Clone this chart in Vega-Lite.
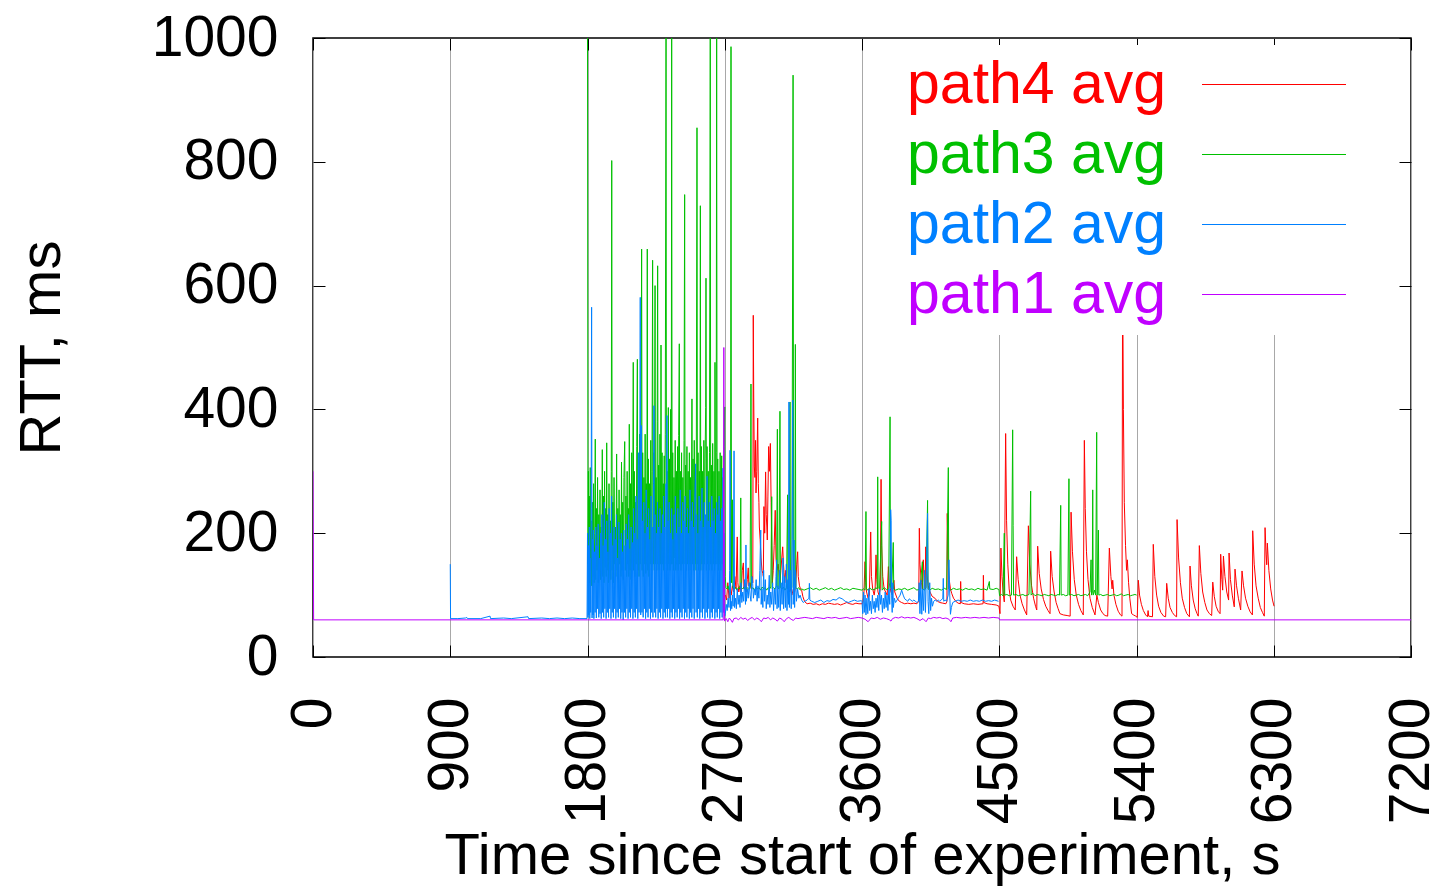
{
"$schema":"https://vega.github.io/schema/vega-lite/v6.json",
"width":1098,"height":619,"autosize":"none",
"padding":{"left":313,"top":38,"right":24,"bottom":230},
"config":{"font":"Liberation Sans","view":{"stroke":"black","strokeWidth":1.5}},
"datasets":{
"p1":[{"t":0,"v":300},{"t":4,"v":60},{"t":900,"v":60},{"t":1800,"v":60},{"t":2690,"v":60},{"t":2694,"v":500},{"t":2698,"v":58},{"t":2710,"v":62},{"t":2720,"v":57},{"t":2730,"v":63},{"t":2740,"v":60},{"t":2750,"v":56},{"t":2760,"v":62},{"t":2775,"v":63},{"t":2790,"v":60},{"t":2805,"v":64},{"t":2820,"v":61},{"t":2835,"v":63},{"t":2850,"v":59},{"t":2865,"v":62},{"t":2880,"v":64},{"t":2895,"v":60},{"t":2910,"v":63},{"t":2925,"v":61},{"t":2940,"v":57},{"t":2955,"v":63},{"t":2970,"v":62},{"t":2985,"v":64},{"t":3000,"v":60},{"t":3015,"v":63},{"t":3030,"v":61},{"t":3045,"v":58},{"t":3060,"v":63},{"t":3075,"v":61},{"t":3090,"v":57},{"t":3105,"v":62},{"t":3120,"v":64},{"t":3135,"v":61},{"t":3150,"v":59},{"t":3165,"v":63},{"t":3180,"v":62},{"t":3200,"v":63},{"t":3225,"v":64},{"t":3250,"v":63},{"t":3275,"v":62},{"t":3300,"v":64},{"t":3325,"v":63},{"t":3350,"v":62},{"t":3375,"v":64},{"t":3400,"v":63},{"t":3425,"v":64},{"t":3450,"v":62},{"t":3475,"v":63},{"t":3500,"v":64},{"t":3525,"v":62},{"t":3550,"v":63},{"t":3575,"v":64},{"t":3600,"v":63},{"t":3620,"v":61},{"t":3640,"v":57},{"t":3660,"v":63},{"t":3680,"v":62},{"t":3700,"v":64},{"t":3720,"v":61},{"t":3740,"v":63},{"t":3760,"v":62},{"t":3780,"v":60},{"t":3790,"v":58},{"t":3800,"v":62},{"t":3820,"v":64},{"t":3840,"v":63},{"t":3860,"v":65},{"t":3880,"v":63},{"t":3900,"v":64},{"t":3920,"v":63},{"t":3940,"v":64},{"t":3960,"v":62},{"t":3980,"v":59},{"t":4000,"v":62},{"t":4020,"v":57},{"t":4035,"v":63},{"t":4050,"v":62},{"t":4070,"v":64},{"t":4090,"v":63},{"t":4110,"v":64},{"t":4130,"v":62},{"t":4150,"v":63},{"t":4170,"v":61},{"t":4183,"v":57},{"t":4195,"v":63},{"t":4220,"v":64},{"t":4250,"v":63},{"t":4280,"v":64},{"t":4310,"v":63},{"t":4340,"v":64},{"t":4370,"v":63},{"t":4400,"v":64},{"t":4430,"v":63},{"t":4460,"v":64},{"t":4498,"v":63},{"t":4502,"v":60},{"t":7200,"v":60}],
"p2":[{"t":900,"v":150},{"t":902,"v":62},{"t":950,"v":62},{"t":1000,"v":63},{"t":1008,"v":64},{"t":1012,"v":62},{"t":1100,"v":62},{"t":1161,"v":66},{"t":1164,"v":62},{"t":1250,"v":63},{"t":1300,"v":62},{"t":1410,"v":65},{"t":1414,"v":62},{"t":1500,"v":63},{"t":1550,"v":62},{"t":1600,"v":63},{"t":1650,"v":62},{"t":1700,"v":63},{"t":1750,"v":62},{"t":1797,"v":62},
{"t":1800,"v":200},{"t":1803,"v":64},{"t":1806,"v":180},{"t":1809,"v":68},{"t":1812,"v":210},{"t":1815,"v":62},{"t":1818,"v":160},{"t":1821,"v":72},{"t":1824,"v":240},{"t":1827,"v":565},{"t":1830,"v":63},{"t":1833,"v":190},{"t":1836,"v":68},{"t":1839,"v":205},{"t":1842,"v":62},{"t":1846,"v":170},{"t":1850,"v":72},{"t":1854,"v":210},{"t":1858,"v":63},{"t":1862,"v":180},{"t":1866,"v":78},{"t":1870,"v":215},{"t":1874,"v":64},{"t":1878,"v":160},{"t":1882,"v":70},{"t":1886,"v":200},{"t":1890,"v":62},{"t":1894,"v":230},{"t":1898,"v":72},{"t":1902,"v":180},{"t":1906,"v":64},{"t":1910,"v":250},{"t":1914,"v":78},{"t":1918,"v":190},{"t":1922,"v":62},{"t":1926,"v":220},{"t":1930,"v":72},{"t":1934,"v":170},{"t":1938,"v":64},{"t":1942,"v":240},{"t":1946,"v":78},{"t":1950,"v":200},{"t":1954,"v":62},{"t":1958,"v":260},{"t":1962,"v":72},{"t":1966,"v":180},{"t":1970,"v":64},{"t":1974,"v":210},{"t":1978,"v":78},{"t":1982,"v":190},{"t":1986,"v":62},{"t":1990,"v":230},{"t":1994,"v":72},{"t":1998,"v":160},{"t":2002,"v":64},{"t":2006,"v":218},{"t":2010,"v":78},{"t":2014,"v":190},{"t":2018,"v":62},{"t":2022,"v":200},{"t":2026,"v":72},{"t":2030,"v":170},{"t":2034,"v":60},{"t":2038,"v":205},{"t":2042,"v":72},{"t":2046,"v":180},{"t":2050,"v":64},{"t":2054,"v":215},{"t":2058,"v":78},{"t":2062,"v":190},{"t":2066,"v":62},{"t":2070,"v":230},{"t":2074,"v":72},{"t":2078,"v":175},{"t":2082,"v":64},{"t":2086,"v":210},{"t":2090,"v":78},{"t":2094,"v":185},{"t":2098,"v":62},{"t":2102,"v":240},{"t":2106,"v":72},{"t":2110,"v":200},{"t":2114,"v":64},{"t":2118,"v":260},{"t":2122,"v":78},{"t":2126,"v":190},{"t":2130,"v":62},{"t":2134,"v":330},{"t":2138,"v":72},{"t":2142,"v":200},{"t":2146,"v":581},{"t":2149,"v":68},{"t":2153,"v":374},{"t":2157,"v":72},{"t":2161,"v":220},{"t":2165,"v":64},{"t":2169,"v":250},{"t":2173,"v":78},{"t":2177,"v":200},{"t":2181,"v":62},{"t":2185,"v":270},{"t":2189,"v":72},{"t":2193,"v":210},{"t":2197,"v":64},{"t":2201,"v":240},{"t":2205,"v":78},{"t":2209,"v":190},{"t":2213,"v":62},{"t":2217,"v":260},{"t":2221,"v":72},{"t":2225,"v":210},{"t":2229,"v":64},{"t":2233,"v":280},{"t":2236,"v":406},{"t":2239,"v":72},{"t":2243,"v":230},{"t":2247,"v":64},{"t":2251,"v":200},{"t":2255,"v":78},{"t":2259,"v":250},{"t":2263,"v":62},{"t":2267,"v":210},{"t":2271,"v":72},{"t":2275,"v":240},{"t":2279,"v":64},{"t":2283,"v":200},{"t":2287,"v":78},{"t":2291,"v":230},{"t":2295,"v":62},{"t":2299,"v":260},{"t":2303,"v":72},{"t":2307,"v":210},{"t":2311,"v":64},{"t":2315,"v":280},{"t":2318,"v":78},{"t":2321,"v":390},{"t":2324,"v":64},{"t":2328,"v":220},{"t":2332,"v":78},{"t":2336,"v":250},{"t":2340,"v":62},{"t":2344,"v":200},{"t":2348,"v":72},{"t":2352,"v":240},{"t":2356,"v":64},{"t":2360,"v":190},{"t":2364,"v":78},{"t":2368,"v":230},{"t":2372,"v":62},{"t":2376,"v":260},{"t":2380,"v":72},{"t":2384,"v":200},{"t":2388,"v":64},{"t":2392,"v":240},{"t":2396,"v":78},{"t":2400,"v":210},{"t":2404,"v":62},{"t":2408,"v":270},{"t":2412,"v":72},{"t":2416,"v":200},{"t":2420,"v":64},{"t":2424,"v":250},{"t":2428,"v":78},{"t":2432,"v":220},{"t":2436,"v":62},{"t":2440,"v":260},{"t":2444,"v":72},{"t":2448,"v":210},{"t":2452,"v":64},{"t":2456,"v":240},{"t":2460,"v":78},{"t":2464,"v":200},{"t":2468,"v":62},{"t":2472,"v":270},{"t":2476,"v":72},{"t":2480,"v":220},{"t":2484,"v":64},{"t":2488,"v":250},{"t":2492,"v":78},{"t":2496,"v":210},{"t":2500,"v":62},{"t":2504,"v":260},{"t":2509,"v":312},{"t":2512,"v":72},{"t":2516,"v":230},{"t":2520,"v":64},{"t":2524,"v":200},{"t":2528,"v":78},{"t":2532,"v":260},{"t":2536,"v":62},{"t":2540,"v":220},{"t":2544,"v":72},{"t":2548,"v":240},{"t":2551,"v":273},{"t":2554,"v":64},{"t":2558,"v":210},{"t":2562,"v":78},{"t":2566,"v":250},{"t":2570,"v":62},{"t":2574,"v":230},{"t":2578,"v":72},{"t":2584,"v":292},{"t":2587,"v":64},{"t":2591,"v":220},{"t":2595,"v":78},{"t":2599,"v":250},{"t":2603,"v":62},{"t":2607,"v":210},{"t":2611,"v":72},{"t":2615,"v":260},{"t":2619,"v":64},{"t":2623,"v":220},{"t":2627,"v":78},{"t":2631,"v":240},{"t":2635,"v":62},{"t":2639,"v":200},{"t":2643,"v":72},{"t":2647,"v":250},{"t":2651,"v":64},{"t":2655,"v":230},{"t":2659,"v":78},{"t":2663,"v":260},{"t":2667,"v":62},{"t":2671,"v":220},{"t":2675,"v":72},{"t":2679,"v":240},{"t":2683,"v":64},{"t":2688,"v":305},{"t":2692,"v":72},{"t":2696,"v":200},{"t":2700,"v":66},
{"t":2704,"v":70},{"t":2710,"v":85},{"t":2716,"v":75},{"t":2722,"v":95},{"t":2728,"v":80},{"t":2732,"v":140},{"t":2735,"v":334},{"t":2738,"v":75},{"t":2742,"v":90},{"t":2746,"v":78},{"t":2750,"v":100},{"t":2755,"v":82},{"t":2758,"v":160},{"t":2761,"v":333},{"t":2764,"v":80},{"t":2770,"v":95},{"t":2776,"v":78},{"t":2782,"v":110},{"t":2788,"v":85},{"t":2794,"v":100},{"t":2800,"v":80},{"t":2806,"v":120},{"t":2812,"v":88},{"t":2818,"v":105},{"t":2824,"v":90},{"t":2830,"v":125},{"t":2836,"v":85},{"t":2839,"v":181},{"t":2842,"v":90},{"t":2848,"v":110},{"t":2854,"v":95},{"t":2860,"v":120},{"t":2866,"v":100},{"t":2872,"v":90},{"t":2878,"v":130},{"t":2883,"v":119},{"t":2888,"v":95},{"t":2894,"v":110},{"t":2900,"v":100},{"t":2906,"v":125},{"t":2912,"v":90},{"t":2918,"v":115},{"t":2924,"v":95},{"t":2930,"v":140},{"t":2936,"v":205},{"t":2939,"v":85},{"t":2944,"v":110},{"t":2950,"v":80},{"t":2955,"v":140},{"t":2960,"v":90},{"t":2966,"v":125},{"t":2972,"v":78},{"t":2978,"v":100},{"t":2984,"v":85},{"t":2992,"v":132},{"t":2996,"v":80},{"t":3002,"v":105},{"t":3008,"v":85},{"t":3014,"v":120},{"t":3020,"v":75},{"t":3026,"v":110},{"t":3032,"v":85},{"t":3036,"v":130},{"t":3040,"v":157},{"t":3043,"v":78},{"t":3048,"v":115},{"t":3054,"v":80},{"t":3060,"v":140},{"t":3064,"v":75},{"t":3070,"v":120},{"t":3076,"v":85},{"t":3082,"v":160},{"t":3086,"v":78},{"t":3092,"v":130},{"t":3098,"v":80},{"t":3104,"v":150},{"t":3108,"v":75},{"t":3114,"v":125},{"t":3118,"v":85},{"t":3121,"v":412},{"t":3124,"v":80},{"t":3130,"v":140},{"t":3136,"v":78},{"t":3142,"v":190},{"t":3146,"v":415},{"t":3149,"v":85},{"t":3154,"v":189},{"t":3158,"v":80},{"t":3164,"v":140},{"t":3170,"v":90},{"t":3178,"v":110},{"t":3186,"v":95},{"t":3194,"v":100},{"t":3204,"v":92},{"t":3215,"v":88},{"t":3225,"v":90},{"t":3240,"v":92},{"t":3252,"v":95},{"t":3255,"v":119},{"t":3258,"v":92},{"t":3270,"v":90},{"t":3290,"v":88},{"t":3310,"v":90},{"t":3330,"v":92},{"t":3350,"v":88},{"t":3370,"v":91},{"t":3390,"v":90},{"t":3410,"v":93},{"t":3430,"v":92},{"t":3450,"v":96},{"t":3470,"v":94},{"t":3490,"v":90},{"t":3510,"v":88},{"t":3530,"v":90},{"t":3550,"v":92},{"t":3570,"v":90},{"t":3595,"v":91},
{"t":3600,"v":90},{"t":3605,"v":70},{"t":3610,"v":105},{"t":3615,"v":72},{"t":3620,"v":100},{"t":3626,"v":68},{"t":3632,"v":95},{"t":3638,"v":70},{"t":3645,"v":110},{"t":3650,"v":75},{"t":3656,"v":90},{"t":3662,"v":70},{"t":3668,"v":100},{"t":3674,"v":78},{"t":3680,"v":90},{"t":3686,"v":72},{"t":3692,"v":95},{"t":3698,"v":80},{"t":3704,"v":100},{"t":3710,"v":75},{"t":3716,"v":110},{"t":3722,"v":85},{"t":3728,"v":100},{"t":3734,"v":72},{"t":3740,"v":95},{"t":3746,"v":78},{"t":3752,"v":105},{"t":3758,"v":80},{"t":3764,"v":100},{"t":3770,"v":75},{"t":3776,"v":110},{"t":3782,"v":85},{"t":3785,"v":150},{"t":3788,"v":238},{"t":3791,"v":221},{"t":3794,"v":100},{"t":3798,"v":72},{"t":3802,"v":120},{"t":3806,"v":80},{"t":3812,"v":95},{"t":3820,"v":88},{"t":3830,"v":92},{"t":3840,"v":96},{"t":3850,"v":100},{"t":3860,"v":108},{"t":3870,"v":100},{"t":3880,"v":94},{"t":3890,"v":92},{"t":3900,"v":90},{"t":3910,"v":94},{"t":3920,"v":92},{"t":3930,"v":90},{"t":3940,"v":92},{"t":3950,"v":90},{"t":3960,"v":88},{"t":3970,"v":90},{"t":3975,"v":120},{"t":3980,"v":70},{"t":3986,"v":124},{"t":3992,"v":69},{"t":3998,"v":110},{"t":4004,"v":75},{"t":4010,"v":140},{"t":4016,"v":72},{"t":4022,"v":130},{"t":4026,"v":180},{"t":4030,"v":232},{"t":4033,"v":90},{"t":4038,"v":70},{"t":4044,"v":120},{"t":4050,"v":75},{"t":4056,"v":95},{"t":4062,"v":82},{"t":4070,"v":90},{"t":4080,"v":92},{"t":4090,"v":90},{"t":4100,"v":92},{"t":4110,"v":90},{"t":4120,"v":92},{"t":4130,"v":95},{"t":4133,"v":127},{"t":4136,"v":90},{"t":4145,"v":92},{"t":4155,"v":90},{"t":4165,"v":100},{"t":4170,"v":157},{"t":4174,"v":110},{"t":4180,"v":69},{"t":4186,"v":80},{"t":4195,"v":88},{"t":4210,"v":90},{"t":4230,"v":92},{"t":4250,"v":90},{"t":4270,"v":91},{"t":4290,"v":90},{"t":4310,"v":92},{"t":4330,"v":90},{"t":4350,"v":91},{"t":4370,"v":90},{"t":4390,"v":92},{"t":4410,"v":90},{"t":4430,"v":91},{"t":4450,"v":90},{"t":4470,"v":92},{"t":4495,"v":90}],
"p3":[{"t":1800,"v":1000},{"t":1803,"v":150},{"t":1806,"v":300},{"t":1809,"v":130},{"t":1812,"v":260},{"t":1815,"v":120},{"t":1818,"v":306},{"t":1821,"v":140},{"t":1824,"v":220},{"t":1828,"v":115},{"t":1832,"v":250},{"t":1836,"v":130},{"t":1840,"v":280},{"t":1844,"v":120},{"t":1848,"v":200},{"t":1851,"v":352},{"t":1854,"v":125},{"t":1858,"v":240},{"t":1862,"v":140},{"t":1866,"v":290},{"t":1870,"v":120},{"t":1874,"v":230},{"t":1878,"v":150},{"t":1882,"v":270},{"t":1886,"v":125},{"t":1890,"v":210},{"t":1894,"v":140},{"t":1897,"v":335},{"t":1900,"v":130},{"t":1904,"v":260},{"t":1908,"v":120},{"t":1912,"v":300},{"t":1916,"v":145},{"t":1920,"v":240},{"t":1923,"v":130},{"t":1926,"v":346},{"t":1929,"v":140},{"t":1933,"v":230},{"t":1937,"v":120},{"t":1941,"v":280},{"t":1945,"v":150},{"t":1949,"v":220},{"t":1953,"v":125},{"t":1956,"v":300},{"t":1959,"v":802},{"t":1962,"v":140},{"t":1966,"v":250},{"t":1970,"v":120},{"t":1974,"v":290},{"t":1978,"v":150},{"t":1982,"v":210},{"t":1986,"v":130},{"t":1991,"v":328},{"t":1995,"v":140},{"t":1999,"v":240},{"t":2003,"v":120},{"t":2007,"v":270},{"t":2011,"v":150},{"t":2015,"v":230},{"t":2019,"v":130},{"t":2023,"v":315},{"t":2027,"v":140},{"t":2031,"v":250},{"t":2035,"v":125},{"t":2039,"v":290},{"t":2044,"v":348},{"t":2048,"v":140},{"t":2052,"v":260},{"t":2056,"v":130},{"t":2060,"v":300},{"t":2064,"v":150},{"t":2068,"v":240},{"t":2071,"v":130},{"t":2074,"v":376},{"t":2078,"v":140},{"t":2082,"v":280},{"t":2086,"v":125},{"t":2090,"v":330},{"t":2094,"v":150},{"t":2097,"v":260},{"t":2100,"v":476},{"t":2103,"v":140},{"t":2107,"v":300},{"t":2111,"v":130},{"t":2115,"v":250},{"t":2119,"v":150},{"t":2123,"v":340},{"t":2127,"v":481},{"t":2130,"v":140},{"t":2134,"v":280},{"t":2138,"v":130},{"t":2142,"v":360},{"t":2146,"v":150},{"t":2150,"v":300},{"t":2155,"v":659},{"t":2158,"v":140},{"t":2162,"v":330},{"t":2166,"v":130},{"t":2170,"v":290},{"t":2174,"v":150},{"t":2178,"v":360},{"t":2182,"v":135},{"t":2186,"v":280},{"t":2189,"v":150},{"t":2192,"v":659},{"t":2195,"v":140},{"t":2199,"v":320},{"t":2203,"v":130},{"t":2207,"v":280},{"t":2211,"v":150},{"t":2215,"v":350},{"t":2219,"v":140},{"t":2223,"v":300},{"t":2227,"v":641},{"t":2230,"v":150},{"t":2234,"v":330},{"t":2238,"v":140},{"t":2243,"v":600},{"t":2246,"v":150},{"t":2250,"v":290},{"t":2254,"v":140},{"t":2257,"v":380},{"t":2260,"v":632},{"t":2263,"v":150},{"t":2267,"v":310},{"t":2271,"v":140},{"t":2275,"v":360},{"t":2279,"v":150},{"t":2282,"v":504},{"t":2285,"v":140},{"t":2289,"v":330},{"t":2293,"v":150},{"t":2297,"v":280},{"t":2300,"v":140},{"t":2303,"v":325},{"t":2306,"v":150},{"t":2310,"v":360},{"t":2315,"v":1000},{"t":2318,"v":150},{"t":2322,"v":300},{"t":2326,"v":140},{"t":2330,"v":403},{"t":2334,"v":150},{"t":2338,"v":320},{"t":2341,"v":140},{"t":2345,"v":400},{"t":2349,"v":150},{"t":2352,"v":1000},{"t":2355,"v":150},{"t":2359,"v":330},{"t":2363,"v":140},{"t":2367,"v":290},{"t":2371,"v":160},{"t":2375,"v":350},{"t":2379,"v":140},{"t":2383,"v":300},{"t":2387,"v":150},{"t":2391,"v":340},{"t":2395,"v":140},{"t":2398,"v":358},{"t":2402,"v":506},{"t":2405,"v":150},{"t":2409,"v":300},{"t":2413,"v":140},{"t":2417,"v":330},{"t":2421,"v":150},{"t":2425,"v":290},{"t":2429,"v":140},{"t":2433,"v":350},{"t":2437,"v":747},{"t":2440,"v":150},{"t":2444,"v":310},{"t":2448,"v":140},{"t":2452,"v":340},{"t":2456,"v":150},{"t":2460,"v":300},{"t":2464,"v":140},{"t":2468,"v":330},{"t":2472,"v":150},{"t":2476,"v":290},{"t":2480,"v":140},{"t":2485,"v":417},{"t":2488,"v":150},{"t":2492,"v":320},{"t":2496,"v":140},{"t":2500,"v":350},{"t":2504,"v":150},{"t":2508,"v":300},{"t":2512,"v":140},{"t":2518,"v":855},{"t":2521,"v":150},{"t":2525,"v":330},{"t":2529,"v":140},{"t":2533,"v":300},{"t":2537,"v":150},{"t":2540,"v":729},{"t":2543,"v":140},{"t":2547,"v":340},{"t":2551,"v":150},{"t":2555,"v":300},{"t":2559,"v":140},{"t":2563,"v":350},{"t":2567,"v":150},{"t":2571,"v":320},{"t":2575,"v":403},{"t":2577,"v":612},{"t":2580,"v":140},{"t":2584,"v":340},{"t":2588,"v":150},{"t":2592,"v":300},{"t":2596,"v":140},{"t":2600,"v":330},{"t":2605,"v":1000},{"t":2608,"v":150},{"t":2612,"v":310},{"t":2616,"v":140},{"t":2621,"v":345},{"t":2625,"v":150},{"t":2629,"v":300},{"t":2633,"v":140},{"t":2636,"v":476},{"t":2640,"v":150},{"t":2644,"v":330},{"t":2647,"v":1000},{"t":2650,"v":150},{"t":2654,"v":320},{"t":2658,"v":140},{"t":2662,"v":300},{"t":2666,"v":150},{"t":2670,"v":330},{"t":2674,"v":140},{"t":2680,"v":325},{"t":2684,"v":150},{"t":2688,"v":290},{"t":2692,"v":130},{"t":2696,"v":340},{"t":2700,"v":404},
{"t":2703,"v":130},{"t":2708,"v":112},{"t":2715,"v":110},{"t":2722,"v":115},{"t":2728,"v":108},{"t":2734,"v":112},{"t":2738,"v":115},{"t":2741,"v":986},{"t":2744,"v":120},{"t":2750,"v":254},{"t":2753,"v":112},{"t":2760,"v":110},{"t":2770,"v":113},{"t":2780,"v":108},{"t":2790,"v":112},{"t":2800,"v":110},{"t":2805,"v":257},{"t":2808,"v":112},{"t":2816,"v":110},{"t":2826,"v":113},{"t":2836,"v":108},{"t":2846,"v":112},{"t":2856,"v":110},{"t":2866,"v":112},{"t":2872,"v":441},{"t":2875,"v":110},{"t":2885,"v":112},{"t":2895,"v":108},{"t":2905,"v":113},{"t":2915,"v":110},{"t":2925,"v":112},{"t":2935,"v":108},{"t":2945,"v":113},{"t":2955,"v":110},{"t":2965,"v":112},{"t":2975,"v":108},{"t":2985,"v":112},{"t":2995,"v":110},{"t":3002,"v":113},{"t":3008,"v":259},{"t":3011,"v":110},{"t":3020,"v":112},{"t":3030,"v":110},{"t":3040,"v":115},{"t":3045,"v":368},{"t":3048,"v":112},{"t":3055,"v":110},{"t":3062,"v":397},{"t":3065,"v":112},{"t":3075,"v":110},{"t":3085,"v":113},{"t":3095,"v":108},{"t":3105,"v":112},{"t":3112,"v":262},{"t":3115,"v":110},{"t":3122,"v":112},{"t":3128,"v":412},{"t":3131,"v":110},{"t":3140,"v":112},{"t":3148,"v":940},{"t":3152,"v":115},{"t":3160,"v":130},{"t":3163,"v":505},{"t":3166,"v":112},{"t":3175,"v":110},{"t":3185,"v":112},{"t":3195,"v":108},{"t":3205,"v":110},{"t":3220,"v":108},{"t":3240,"v":110},{"t":3260,"v":112},{"t":3280,"v":109},{"t":3300,"v":111},{"t":3320,"v":108},{"t":3340,"v":110},{"t":3360,"v":112},{"t":3380,"v":109},{"t":3400,"v":111},{"t":3420,"v":108},{"t":3440,"v":110},{"t":3460,"v":112},{"t":3480,"v":109},{"t":3500,"v":110},{"t":3520,"v":108},{"t":3540,"v":111},{"t":3560,"v":110},{"t":3580,"v":109},{"t":3600,"v":108},
{"t":3610,"v":110},{"t":3620,"v":108},{"t":3626,"v":235},{"t":3629,"v":110},{"t":3640,"v":108},{"t":3650,"v":112},{"t":3660,"v":109},{"t":3670,"v":110},{"t":3680,"v":108},{"t":3690,"v":112},{"t":3700,"v":110},{"t":3703,"v":291},{"t":3706,"v":112},{"t":3715,"v":110},{"t":3729,"v":219},{"t":3732,"v":108},{"t":3745,"v":112},{"t":3760,"v":109},{"t":3775,"v":110},{"t":3784,"v":388},{"t":3787,"v":112},{"t":3795,"v":110},{"t":3805,"v":185},{"t":3808,"v":110},{"t":3820,"v":108},{"t":3840,"v":110},{"t":3860,"v":109},{"t":3880,"v":111},{"t":3900,"v":108},{"t":3920,"v":110},{"t":3940,"v":112},{"t":3960,"v":108},{"t":3980,"v":110},{"t":3996,"v":154},{"t":3999,"v":110},{"t":4010,"v":108},{"t":4020,"v":112},{"t":4030,"v":253},{"t":4033,"v":110},{"t":4045,"v":108},{"t":4060,"v":111},{"t":4080,"v":109},{"t":4100,"v":110},{"t":4120,"v":108},{"t":4140,"v":111},{"t":4155,"v":109},{"t":4166,"v":306},{"t":4169,"v":110},{"t":4180,"v":108},{"t":4200,"v":111},{"t":4220,"v":109},{"t":4240,"v":110},{"t":4260,"v":108},{"t":4280,"v":111},{"t":4300,"v":109},{"t":4320,"v":110},{"t":4340,"v":108},{"t":4360,"v":111},{"t":4380,"v":109},{"t":4400,"v":110},{"t":4420,"v":108},{"t":4435,"v":122},{"t":4438,"v":110},{"t":4460,"v":109},{"t":4480,"v":111},{"t":4498,"v":109},{"t":4502,"v":99},
{"t":4515,"v":101},{"t":4525,"v":99},{"t":4533,"v":200},{"t":4536,"v":100},{"t":4550,"v":101},{"t":4565,"v":99},{"t":4580,"v":100},{"t":4588,"v":367},{"t":4591,"v":212},{"t":4594,"v":100},{"t":4610,"v":101},{"t":4625,"v":99},{"t":4640,"v":100},{"t":4655,"v":101},{"t":4670,"v":99},{"t":4685,"v":100},{"t":4695,"v":101},{"t":4706,"v":268},{"t":4709,"v":100},{"t":4720,"v":103},{"t":4735,"v":99},{"t":4750,"v":101},{"t":4765,"v":100},{"t":4780,"v":99},{"t":4795,"v":101},{"t":4810,"v":100},{"t":4825,"v":99},{"t":4840,"v":101},{"t":4855,"v":100},{"t":4870,"v":99},{"t":4885,"v":101},{"t":4895,"v":100},{"t":4903,"v":245},{"t":4906,"v":100},{"t":4920,"v":101},{"t":4935,"v":99},{"t":4950,"v":100},{"t":4957,"v":288},{"t":4960,"v":100},{"t":4975,"v":101},{"t":4990,"v":99},{"t":5005,"v":100},{"t":5020,"v":101},{"t":5035,"v":99},{"t":5050,"v":100},{"t":5065,"v":101},{"t":5080,"v":99},{"t":5095,"v":105},{"t":5102,"v":157},{"t":5105,"v":100},{"t":5110,"v":105},{"t":5113,"v":270},{"t":5116,"v":100},{"t":5125,"v":108},{"t":5132,"v":100},{"t":5139,"v":363},{"t":5142,"v":100},{"t":5150,"v":205},{"t":5153,"v":100},{"t":5165,"v":101},{"t":5180,"v":99},{"t":5195,"v":100},{"t":5210,"v":101},{"t":5225,"v":99},{"t":5240,"v":100},{"t":5255,"v":101},{"t":5270,"v":99},{"t":5285,"v":100},{"t":5300,"v":102},{"t":5315,"v":99},{"t":5330,"v":100},{"t":5345,"v":101},{"t":5360,"v":99},{"t":5375,"v":100},{"t":5390,"v":101},{"t":5401,"v":100}],
"p4":[{"t":2705,"v":100},{"t":2712,"v":92},{"t":2720,"v":120},{"t":2728,"v":95},{"t":2735,"v":110},{"t":2742,"v":100},{"t":2750,"v":115},{"t":2758,"v":105},{"t":2766,"v":130},{"t":2774,"v":110},{"t":2782,"v":194},{"t":2786,"v":120},{"t":2792,"v":105},{"t":2800,"v":115},{"t":2808,"v":105},{"t":2815,"v":140},{"t":2822,"v":152},{"t":2826,"v":110},{"t":2832,"v":120},{"t":2840,"v":105},{"t":2848,"v":125},{"t":2854,"v":144},{"t":2858,"v":115},{"t":2866,"v":120},{"t":2874,"v":110},{"t":2880,"v":130},{"t":2884,"v":120},{"t":2887,"v":552},{"t":2890,"v":420},{"t":2894,"v":307},{"t":2898,"v":290},{"t":2902,"v":350},{"t":2905,"v":265},{"t":2910,"v":300},{"t":2916,"v":386},{"t":2920,"v":280},{"t":2924,"v":250},{"t":2927,"v":210},{"t":2932,"v":190},{"t":2938,"v":160},{"t":2944,"v":140},{"t":2950,"v":135},{"t":2953,"v":130},{"t":2957,"v":243},{"t":2962,"v":200},{"t":2968,"v":299},{"t":2972,"v":230},{"t":2976,"v":210},{"t":2979,"v":189},{"t":2983,"v":260},{"t":2988,"v":340},{"t":2993,"v":300},{"t":2999,"v":345},{"t":3004,"v":250},{"t":3008,"v":180},{"t":3012,"v":119},{"t":3018,"v":140},{"t":3024,"v":180},{"t":3031,"v":237},{"t":3036,"v":160},{"t":3042,"v":140},{"t":3050,"v":150},{"t":3056,"v":136},{"t":3062,"v":120},{"t":3068,"v":140},{"t":3074,"v":160},{"t":3080,"v":178},{"t":3085,"v":150},{"t":3089,"v":136},{"t":3094,"v":120},{"t":3100,"v":140},{"t":3106,"v":125},{"t":3112,"v":110},{"t":3118,"v":115},{"t":3125,"v":105},{"t":3132,"v":110},{"t":3140,"v":100},{"t":3150,"v":110},{"t":3158,"v":105},{"t":3165,"v":115},{"t":3172,"v":150},{"t":3178,"v":170},{"t":3182,"v":130},{"t":3190,"v":115},{"t":3197,"v":110},{"t":3204,"v":108},{"t":3212,"v":98},{"t":3220,"v":92},{"t":3226,"v":89},{"t":3240,"v":86},{"t":3260,"v":87},{"t":3280,"v":85},{"t":3300,"v":86},{"t":3320,"v":84},{"t":3340,"v":86},{"t":3360,"v":85},{"t":3380,"v":87},{"t":3400,"v":86},{"t":3420,"v":85},{"t":3440,"v":86},{"t":3460,"v":84},{"t":3480,"v":86},{"t":3500,"v":88},{"t":3520,"v":86},{"t":3540,"v":85},{"t":3560,"v":87},{"t":3580,"v":86},{"t":3600,"v":86},
{"t":3605,"v":88},{"t":3612,"v":100},{"t":3620,"v":154},{"t":3624,"v":120},{"t":3630,"v":105},{"t":3640,"v":95},{"t":3648,"v":100},{"t":3657,"v":202},{"t":3662,"v":130},{"t":3670,"v":110},{"t":3680,"v":100},{"t":3686,"v":110},{"t":3692,"v":165},{"t":3697,"v":125},{"t":3705,"v":105},{"t":3712,"v":100},{"t":3720,"v":110},{"t":3725,"v":287},{"t":3729,"v":180},{"t":3736,"v":130},{"t":3745,"v":110},{"t":3755,"v":105},{"t":3765,"v":100},{"t":3773,"v":146},{"t":3778,"v":120},{"t":3790,"v":105},{"t":3800,"v":100},{"t":3809,"v":124},{"t":3815,"v":105},{"t":3830,"v":95},{"t":3845,"v":90},{"t":3860,"v":88},{"t":3880,"v":86},{"t":3900,"v":87},{"t":3920,"v":86},{"t":3940,"v":87},{"t":3960,"v":86},{"t":3972,"v":90},{"t":3976,"v":208},{"t":3980,"v":150},{"t":3990,"v":120},{"t":3996,"v":110},{"t":4002,"v":157},{"t":4008,"v":125},{"t":4014,"v":110},{"t":4018,"v":178},{"t":4024,"v":140},{"t":4034,"v":115},{"t":4046,"v":105},{"t":4060,"v":98},{"t":4078,"v":95},{"t":4095,"v":90},{"t":4110,"v":88},{"t":4130,"v":87},{"t":4150,"v":86},{"t":4157,"v":90},{"t":4159,"v":232},{"t":4164,"v":160},{"t":4172,"v":125},{"t":4180,"v":110},{"t":4188,"v":103},{"t":4200,"v":95},{"t":4215,"v":90},{"t":4230,"v":87},{"t":4245,"v":86},{"t":4247,"v":122},{"t":4250,"v":88},{"t":4270,"v":86},{"t":4300,"v":85},{"t":4330,"v":86},{"t":4360,"v":85},{"t":4394,"v":86},{"t":4396,"v":132},{"t":4399,"v":88},{"t":4420,"v":86},{"t":4450,"v":85},{"t":4480,"v":84},{"t":4498,"v":82},{"t":4505,"v":70},
{"t":4511,"v":176},{"t":4518,"v":130},{"t":4525,"v":105},{"t":4533,"v":89},{"t":4542,"v":361},{"t":4548,"v":220},{"t":4556,"v":150},{"t":4565,"v":110},{"t":4575,"v":92},{"t":4590,"v":82},{"t":4605,"v":76},{"t":4614,"v":162},{"t":4624,"v":125},{"t":4636,"v":100},{"t":4650,"v":86},{"t":4665,"v":76},{"t":4680,"v":68},{"t":4691,"v":212},{"t":4700,"v":150},{"t":4712,"v":115},{"t":4725,"v":95},{"t":4738,"v":82},{"t":4746,"v":76},{"t":4752,"v":179},{"t":4762,"v":135},{"t":4775,"v":110},{"t":4790,"v":93},{"t":4805,"v":82},{"t":4820,"v":75},{"t":4833,"v":70},{"t":4837,"v":171},{"t":4847,"v":130},{"t":4860,"v":105},{"t":4873,"v":88},{"t":4886,"v":78},{"t":4898,"v":70},{"t":4920,"v":68},{"t":4945,"v":67},{"t":4965,"v":66},{"t":4971,"v":234},{"t":4980,"v":170},{"t":4992,"v":125},{"t":5005,"v":100},{"t":5020,"v":85},{"t":5035,"v":75},{"t":5051,"v":68},{"t":5058,"v":350},{"t":5064,"v":240},{"t":5072,"v":170},{"t":5082,"v":125},{"t":5095,"v":95},{"t":5110,"v":80},{"t":5128,"v":68},{"t":5140,"v":100},{"t":5150,"v":88},{"t":5165,"v":76},{"t":5180,"v":70},{"t":5194,"v":67},{"t":5211,"v":66},{"t":5222,"v":176},{"t":5232,"v":130},{"t":5240,"v":110},{"t":5244,"v":124},{"t":5252,"v":100},{"t":5265,"v":85},{"t":5280,"v":74},{"t":5295,"v":68},{"t":5305,"v":66},{"t":5309,"v":633},{"t":5314,"v":400},{"t":5320,"v":250},{"t":5328,"v":180},{"t":5335,"v":140},{"t":5340,"v":157},{"t":5348,"v":120},{"t":5356,"v":95},{"t":5368,"v":70},{"t":5380,"v":68},{"t":5395,"v":66},{"t":5405,"v":64},{"t":5412,"v":124},{"t":5420,"v":100},{"t":5432,"v":85},{"t":5445,"v":75},{"t":5460,"v":68},{"t":5472,"v":65},{"t":5476,"v":75},{"t":5480,"v":66},{"t":5505,"v":65},{"t":5510,"v":182},{"t":5520,"v":130},{"t":5532,"v":100},{"t":5545,"v":82},{"t":5560,"v":72},{"t":5578,"v":66},{"t":5591,"v":65},{"t":5598,"v":119},{"t":5608,"v":95},{"t":5620,"v":80},{"t":5635,"v":72},{"t":5650,"v":67},{"t":5663,"v":65},{"t":5666,"v":222},{"t":5676,"v":160},{"t":5688,"v":120},{"t":5700,"v":95},{"t":5715,"v":80},{"t":5730,"v":70},{"t":5747,"v":65},{"t":5751,"v":147},{"t":5760,"v":115},{"t":5772,"v":92},{"t":5785,"v":78},{"t":5797,"v":70},{"t":5805,"v":66},{"t":5812,"v":180},{"t":5822,"v":135},{"t":5834,"v":105},{"t":5848,"v":88},{"t":5862,"v":76},{"t":5878,"v":70},{"t":5893,"v":67},{"t":5900,"v":121},{"t":5910,"v":98},{"t":5922,"v":82},{"t":5935,"v":74},{"t":5948,"v":70},{"t":5952,"v":166},{"t":5960,"v":125},{"t":5965,"v":108},{"t":5970,"v":163},{"t":5980,"v":130},{"t":5992,"v":105},{"t":6004,"v":92},{"t":6007,"v":168},{"t":6016,"v":125},{"t":6028,"v":100},{"t":6041,"v":81},{"t":6046,"v":142},{"t":6056,"v":115},{"t":6068,"v":95},{"t":6083,"v":76},{"t":6092,"v":139},{"t":6102,"v":115},{"t":6115,"v":95},{"t":6130,"v":82},{"t":6145,"v":73},{"t":6160,"v":68},{"t":6162,"v":204},{"t":6172,"v":150},{"t":6184,"v":115},{"t":6198,"v":95},{"t":6212,"v":80},{"t":6226,"v":72},{"t":6238,"v":66},{"t":6243,"v":209},{"t":6250,"v":165},{"t":6254,"v":149},{"t":6258,"v":184},{"t":6268,"v":140},{"t":6280,"v":110},{"t":6292,"v":92},{"t":6302,"v":82}]
},
"layer":[
{"data":{"name":"p4"},"mark":{"type":"line","strokeWidth":1,"clip":true},
 "encoding":{
  "x":{"field":"t","type":"quantitative","scale":{"domain":[0,7200],"nice":false,"zero":false},
   "axis":{"orient":"bottom","values":[0,900,1800,2700,3600,4500,5400,6300,7200],"format":"d","labelAngle":-90,"labelFontSize":57,"labelColor":"black","labelPadding":52,"labelFlush":false,"labelOverlap":false,"labelBound":false,"tickSize":-12,"tickColor":"black","tickWidth":1,"domain":false,"grid":true,"gridColor":"#a8a8a8","gridWidth":1,"title":"Time since start of experiment, s","titleFontSize":58,"titleFontWeight":"normal","titleColor":"black","titlePadding":4}},
  "y":{"field":"v","type":"quantitative","scale":{"domain":[0,1000],"nice":false},
   "axis":{"orient":"left","values":[0,200,400,600,800,1000],"format":"d","labelFontSize":57,"labelColor":"black","labelPadding":47,"labelFlush":false,"labelOverlap":false,"labelBound":false,"tickSize":-12,"tickColor":"black","tickWidth":1,"domain":false,"grid":false,"title":"RTT, ms","titleFontSize":58,"titleFontWeight":"normal","titleColor":"black","titlePadding":80}},
  "color":{"datum":"path4 avg","type":"nominal",
   "scale":{"domain":["path4 avg","path3 avg","path2 avg","path1 avg"],"range":["#ff0000","#00c000","#0080ff","#c000ff"]},
   "legend":{"orient":"none","legendX":584,"legendY":7,"title":null,"symbolType":"M-12,0H12","symbolSize":144,"symbolStrokeWidth":1,"labelFontSize":59,"labelLimit":0,"rowPadding":10,"padding":10,"fillColor":"white","values":["path4 avg","path3 avg","path2 avg","path1 avg"],
    "encode":{"labels":{"update":{"fill":{"scale":"color","field":"value"},"x":{"value":0}}},"symbols":{"update":{"x":{"value":367},"stroke":{"scale":"color","field":"value"},"strokeWidth":{"value":1.2}}}}}}
 }},
{"data":{"name":"p3"},"mark":{"type":"line","strokeWidth":1,"clip":true},
 "encoding":{
  "x":{"field":"t","type":"quantitative","axis":{"orient":"top","values":[0,900,1800,2700,3600,4500,5400,6300,7200],"labels":false,"tickSize":-12,"tickColor":"black","domain":false,"grid":false,"title":null}},
  "y":{"field":"v","type":"quantitative","axis":{"orient":"right","values":[0,200,400,600,800,1000],"labels":false,"tickSize":-12,"tickColor":"black","domain":false,"grid":false,"title":null}},
  "color":{"datum":"path3 avg","type":"nominal"}
 }},
{"data":{"name":"p2"},"mark":{"type":"line","strokeWidth":1,"clip":true},
 "encoding":{
  "x":{"field":"t","type":"quantitative","axis":null},
  "y":{"field":"v","type":"quantitative","axis":null},
  "color":{"datum":"path2 avg","type":"nominal"}
 }},
{"data":{"name":"p1"},"mark":{"type":"line","strokeWidth":1,"clip":true},
 "encoding":{
  "x":{"field":"t","type":"quantitative","axis":null},
  "y":{"field":"v","type":"quantitative","axis":null},
  "color":{"datum":"path1 avg","type":"nominal"}
 }}
],
"resolve":{"axis":{"x":"independent","y":"independent"}}
}
